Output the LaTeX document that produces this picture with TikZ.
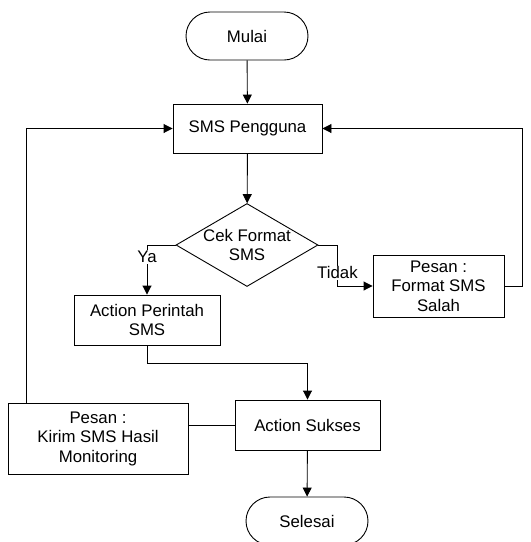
\documentclass[tikz,border=0pt]{standalone}
\usepackage{fontspec}
\setmainfont{Liberation Sans}
\usetikzlibrary{shapes.geometric,arrows.meta}

\begin{document}
\begin{tikzpicture}[x=1pt,y=-1pt,
    line width=0.9pt,
    font=\fontsize{16.8}{19.5}\selectfont,
    terminal/.style={rectangle,draw,rounded corners=24pt,minimum width=122pt,minimum height=48pt,inner sep=0pt},
    process/.style={rectangle,draw,align=center,inner sep=0pt},
    decision/.style={diamond,draw,minimum width=142pt,minimum height=83pt,inner sep=0pt},
    flow/.style={-{Triangle[length=9pt,width=9pt]}},
    cond/.style={fill=white,inner sep=1pt}]
						\clip (0,0) rectangle (531,542);
						\begin{scope}
							\node[terminal] (mulai) at (247,36) {Mulai};
							\node[process,minimum width=149pt,minimum height=49pt] (sms) at (247.5,128.5) {SMS Pengguna};
							\node[decision,label={[align=center]center:Cek Format\\SMS}] (cek) at (247,245) {};
							\node[process,minimum width=146pt,minimum height=50pt] (perintah) at (147,320) {Action Perintah\\SMS};
							\node[process,minimum width=131pt,minimum height=62pt] (format) at (438.5,286) {Pesan :\\Format SMS\\Salah};
							\node[process,minimum width=145pt,minimum height=50pt] (sukses) at (307.5,425) {Action Sukses};
							\node[process,minimum width=180pt,minimum height=71pt] (kirim) at (98,438.5) {Pesan :\\Kirim SMS Hasil\\Monitoring};
							\node[terminal] (selesai) at (307,521) {Selesai};
						\end{scope}
						
						\begin{scope}
							\draw[flow] (mulai) -- (sms);
							\draw[flow] (sms) -- (cek);
							\draw[flow] (cek.west) -| node[pos=0.62,cond] {Ya} (perintah.north);
							\draw[flow] (cek.east) -- ++(19,0) |- node[pos=0.34,cond] {Tidak} (format.west);
							\draw[flow] (format.east) -- ++(18,0) |- (sms.east);
							\draw[flow] (perintah.south) -- ++(0,18) -| (sukses.north);
							\draw (sukses.west) -- (sukses.west -| kirim.east);
							\draw[flow] ([xshift=19pt]kirim.north west) |- (sms.west);
							\draw[flow] (sukses) -- (selesai);
						\end{scope}
					\end{tikzpicture}
\end{document}
